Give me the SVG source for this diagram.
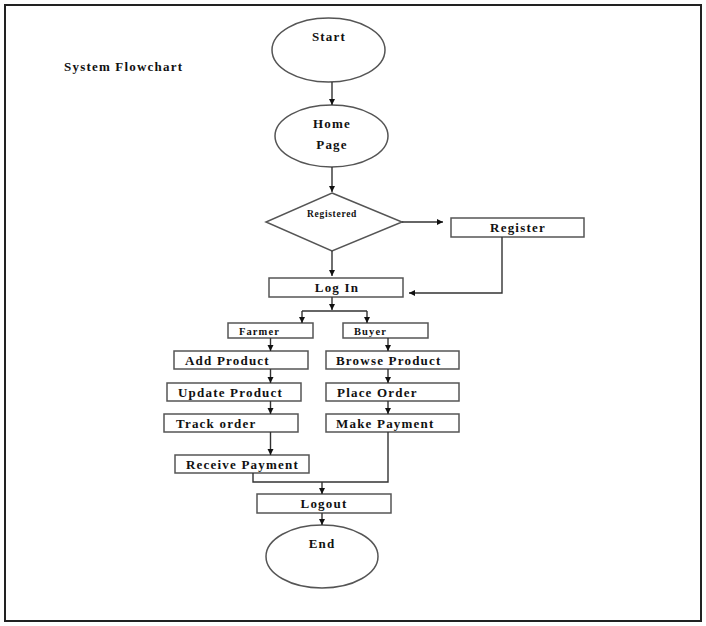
<svg xmlns="http://www.w3.org/2000/svg" width="706" height="626" viewBox="0 0 706 626">
<style>
.shape{fill:#fff;stroke:#555;stroke-width:1.5}
.t{font-family:"Liberation Serif","Times New Roman",serif;font-weight:bold;font-size:13px;letter-spacing:1.2px;fill:#111}
.c{text-anchor:middle}
.sm{font-size:10.5px;letter-spacing:1.1px}
.xs{font-size:9.5px;letter-spacing:0.7px}
.ln{fill:none;stroke:#333;stroke-width:1.4}
.ar{marker-end:url(#ah)}
</style>
<defs>
<marker id="ah" markerUnits="userSpaceOnUse" markerWidth="7" markerHeight="7" refX="6" refY="3" orient="auto">
<path d="M0,0 L6,3 L0,6 z" fill="#111"/>
</marker>
</defs>
<rect x="5" y="5" width="696" height="616" fill="#fff" stroke="#222" stroke-width="2"/>
<text class="t" x="64" y="71">System Flowchart</text>
<g id="start"><ellipse class="shape" cx="328.5" cy="50" rx="56.5" ry="32"/><text class="t c" x="329" y="40.5">Start</text></g>
<g id="home"><ellipse class="shape" cx="331.5" cy="136" rx="56.5" ry="31"/><text class="t c" x="332" y="127.5">Home</text><text class="t c" x="332" y="148.5">Page</text></g>
<g id="registered"><polygon class="shape" points="332,193 402,222 332,251 266,222"/><text class="t c xs" x="332" y="216.5">Registered</text></g>
<g id="register"><rect class="shape" x="451" y="218" width="133" height="19"/><text class="t c" x="518" y="231.5">Register</text></g>
<g id="login"><rect class="shape" x="269" y="278" width="134" height="19"/><text class="t c" x="337" y="291.5">Log In</text></g>
<g id="farmer"><rect class="shape" x="228" y="323" width="85" height="15"/><text class="t sm" x="239" y="334.5">Farmer</text></g>
<g id="buyer"><rect class="shape" x="343" y="323" width="85" height="15"/><text class="t sm" x="354" y="334.5">Buyer</text></g>
<g id="add-product"><rect class="shape" x="174" y="351" width="134" height="18"/><text class="t" x="185" y="365">Add Product</text></g>
<g id="browse-product"><rect class="shape" x="326" y="351" width="133" height="18"/><text class="t" x="336" y="365">Browse Product</text></g>
<g id="update-product"><rect class="shape" x="167" y="383" width="134" height="18"/><text class="t" x="178" y="397">Update Product</text></g>
<g id="place-order"><rect class="shape" x="326" y="383" width="133" height="18"/><text class="t" x="337" y="397">Place Order</text></g>
<g id="track-order"><rect class="shape" x="164" y="414" width="134" height="18"/><text class="t" x="176" y="428">Track order</text></g>
<g id="make-payment"><rect class="shape" x="326" y="414" width="133" height="18"/><text class="t" x="336" y="428">Make Payment</text></g>
<g id="receive-payment"><rect class="shape" x="175" y="455" width="134" height="18"/><text class="t" x="186" y="469">Receive Payment</text></g>
<g id="logout"><rect class="shape" x="257" y="494" width="134" height="19"/><text class="t c" x="324" y="507.5">Logout</text></g>
<g id="end"><ellipse class="shape" cx="322" cy="556.5" rx="56" ry="31.5"/><text class="t c" x="322" y="547.5">End</text></g>
<g id="connectors">
<path class="ln ar" d="M332,82 V105"/>
<path class="ln ar" d="M332,167 V192"/>
<path class="ln ar" d="M402,222 H443"/>
<path class="ln ar" d="M332,251 V276"/>
<path class="ln ar" d="M502,237 V293 H409"/>
<path class="ln ar" d="M332,297 V310"/>
<path class="ln" d="M302,311 H367"/>
<path class="ln ar" d="M302,311 V323"/>
<path class="ln ar" d="M367,311 V323"/>
<path class="ln ar" d="M270.5,338 V351"/>
<path class="ln ar" d="M388,338 V351"/>
<path class="ln ar" d="M270.5,369 V383"/>
<path class="ln ar" d="M388,369 V383"/>
<path class="ln ar" d="M270.5,401 V414"/>
<path class="ln ar" d="M388,401 V414"/>
<path class="ln ar" d="M270.5,432 V455"/>
<path class="ln" d="M253,473 V482 H388 V432"/>
<path class="ln ar" d="M322,482 V494"/>
<path class="ln ar" d="M322,513 V525"/>
</g>
</svg>
